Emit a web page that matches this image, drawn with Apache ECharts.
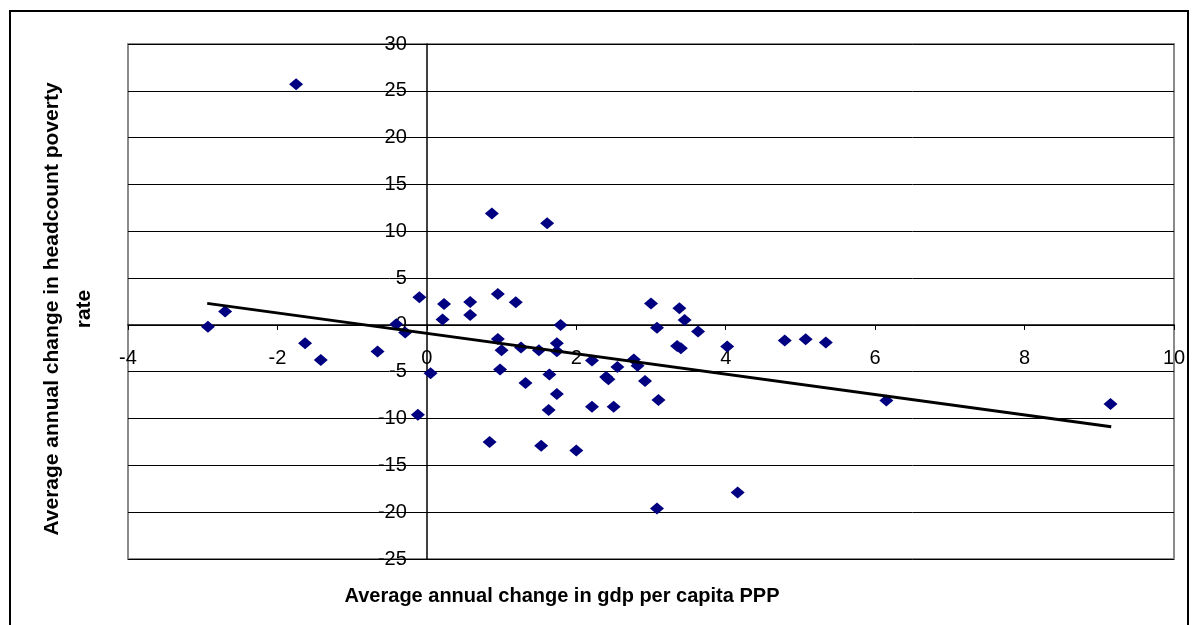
<!DOCTYPE html>
<html>
<head>
<meta charset="utf-8">
<script src="https://cdn.jsdelivr.net/npm/echarts@6/dist/echarts.min.js"></script>
<style>
  html, body { margin: 0; padding: 0; background: #fff; }
  #chart { width: 1197px; height: 625px; }
</style>
</head>
<body>
<div id="chart"></div>
<script>
// Average annual change in GDP per capita (PPP) vs. change in headcount poverty rate
const gdpChange = [
  -2.93, -2.70, -1.75, -1.63, -1.42, -0.66, -0.41, -0.29, -0.10, -0.12,
   0.05,  0.23,  0.21,  0.58,  0.58,  0.84,  0.87,  0.95,  0.95,  1.00,
   0.98,  1.19,  1.26,  1.32,  1.50,  1.53,  1.61,  1.64,  1.63,  1.74,
   1.74,  1.74,  1.79,  2.00,  2.21,  2.21,  2.40,  2.43,  2.50,  2.55,
   2.77,  2.82,  2.92,  3.00,  3.08,  3.10,  3.08,  3.38,  3.45,  3.63,
   3.35,  3.40,  4.02,  4.16,  4.79,  5.07,  5.34,  6.15,  9.15
];
const povertyChange = [
  -0.20,  1.42, 25.70, -1.96, -3.74, -2.85,  0.07, -0.82,  2.96, -9.60,
  -5.16,  2.24,  0.57,  2.45,  1.07, -12.5, 11.90,  3.31, -1.50, -2.70,
  -4.77,  2.42, -2.40, -6.20, -2.70, -12.9, 10.86, -5.30, -9.08, -1.96,
  -2.80, -7.37,  0.00, -13.4, -3.81, -8.73, -5.55, -5.80, -8.73, -4.50,
  -3.70, -4.35, -5.98,  2.28, -0.30, -8.01, -19.6,  1.78,  0.53, -0.71,
  -2.25, -2.50, -2.31, -17.9, -1.67, -1.52, -1.89, -8.08, -8.44
];
// Linear trend line endpoints (x, y)
const trendX = [-2.94, 9.16];
const trendY = [2.30, -10.88];

const xTicks = { min: -4, max: 10, interval: 2 };
const yTicks = { min: -25, max: 30, interval: 5 };

const points = gdpChange.map((x, i) => [x, povertyChange[i]]);
const trend = trendX.map((x, i) => [x, trendY[i]]);

const font = "'Liberation Sans', Arial, sans-serif";
const gridBox = { left: 128, right: 23, top: 44, bottom: 66 };
const chartW = 1197, chartH = 625;

const chart = echarts.init(document.getElementById('chart'), null, { renderer: 'canvas' });

// The axes cross at the origin: shift each axis from the plot edge to the zero line.
const plotW = chartW - gridBox.left - gridBox.right;
const plotH = chartH - gridBox.top - gridBox.bottom;
const yAxisShift = plotW * (0 - xTicks.min) / (xTicks.max - xTicks.min);
const xAxisShift = plotH * (0 - yTicks.min) / (yTicks.max - yTicks.min);

chart.setOption({
  animation: false,
  backgroundColor: '#ffffff',
  grid: Object.assign({
    show: true, borderColor: '#8a8a8a', borderWidth: 2, backgroundColor: '#ffffff'
  }, gridBox),
  xAxis: {
    type: 'value',
    position: 'bottom',
    offset: -xAxisShift,
    min: xTicks.min, max: xTicks.max, interval: xTicks.interval,
    axisLine: { show: true, onZero: false, lineStyle: { color: '#000', width: 1.5 } },
    axisTick: { show: true, inside: false, length: 5, lineStyle: { color: '#000' } },
    axisLabel: { color: '#000', fontFamily: font, fontSize: 20, margin: 24 },
    splitLine: { show: false }
  },
  yAxis: {
    type: 'value',
    position: 'left',
    offset: -yAxisShift,
    min: yTicks.min, max: yTicks.max, interval: yTicks.interval,
    axisLine: { show: true, onZero: false, lineStyle: { color: '#000', width: 1.5 } },
    axisTick: { show: true, inside: false, length: 8, lineStyle: { color: '#000' } },
    axisLabel: { color: '#000', fontFamily: font, fontSize: 20, margin: 20 },
    splitLine: { show: true, lineStyle: { color: '#000', width: 1 } }
  },
  series: [
    {
      type: 'scatter',
      data: points,
      symbol: 'diamond',
      symbolSize: [14, 12],
      itemStyle: { color: '#000080', opacity: 1 },
      z: 3
    },
    {
      type: 'line',
      data: trend,
      showSymbol: false,
      symbol: 'none',
      lineStyle: { color: '#000', width: 3 },
      z: 4
    }
  ],
  graphic: [
    {
      type: 'rect',
      shape: { x: 10, y: 11, width: 1178, height: 640 },
      style: { fill: 'none', stroke: '#000', lineWidth: 2 },
      silent: true, z: -10
    },
    {
      type: 'text',
      x: 562, y: 596,
      style: {
        text: 'Average annual change in gdp per capita PPP',
        fill: '#000', font: "bold 20px 'Liberation Sans', Arial, sans-serif",
        textAlign: 'center', textVerticalAlign: 'middle'
      }
    },
    {
      type: 'text',
      x: 52, y: 309, rotation: Math.PI / 2,
      style: {
        text: 'Average annual change in headcount poverty',
        fill: '#000', font: "bold 21px 'Liberation Sans', Arial, sans-serif",
        textAlign: 'center', textVerticalAlign: 'middle'
      }
    },
    {
      type: 'text',
      x: 84, y: 309, rotation: Math.PI / 2,
      style: {
        text: 'rate',
        fill: '#000', font: "bold 21px 'Liberation Sans', Arial, sans-serif",
        textAlign: 'center', textVerticalAlign: 'middle'
      }
    }
  ]
});
</script>
</body>
</html>
